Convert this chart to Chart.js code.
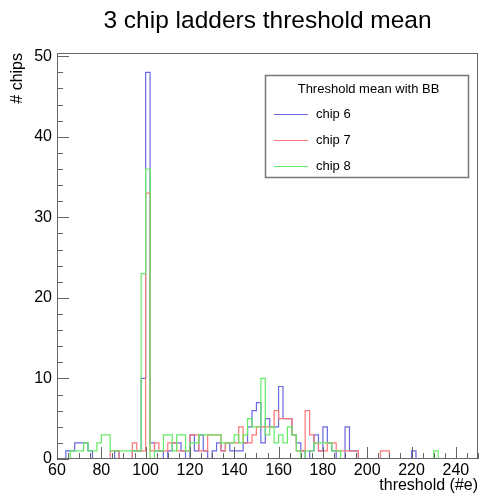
<!DOCTYPE html>
<html>
<head>
<meta charset="utf-8">
<title>3 chip ladders threshold mean</title>
<script src="https://cdn.jsdelivr.net/npm/chart.js@4.4.1/dist/chart.umd.min.js"></script>
<style>
  html, body { margin: 0; padding: 0; background: #fff; }
  #wrap { width: 479px; height: 494px; }
</style>
</head>
<body>
<div id="wrap"><canvas id="myChart"></canvas></div>
<script>
// histogram: 2 e- wide bins starting at 60
const binStart = 60;
const binWidth = 2;
const xTicks = [60, 80, 100, 120, 140, 160, 180, 200, 220, 240];
const yTicks = [0, 10, 20, 30, 40, 50];
const yMax = 50.4;

const chartTitle = '3 chip ladders threshold mean';
const legendHeader = 'Threshold mean with BB';
const seriesNames = ['chip 6', 'chip 7', 'chip 8'];
const seriesColors = ['rgb(105,105,225)', 'rgb(250,120,120)', 'rgb(100,235,100)'];

// counts per bin, one row = 10 bins = 20 e-
const chip6 = [
  0,0,1,1,2,2,2,1,0,0,      // 60-78
  0,0,0,1,0,0,0,1,1,10,     // 80-98
  48,2,1,1,0,1,2,2,1,0,     // 100-118
  3,1,3,1,0,1,2,1,2,1,      // 120-138
  1,1,2,4,6,7,2,5,4,4,      // 140-158
  9,5,5,3,2,1,0,1,3,1,      // 160-178
  4,2,1,0,0,4,1,1,0,0,      // 180-198
  0,0,0,0,0,0,0,0,0,0,      // 200-218
  1,0,0,0,0,0,0,0,0,0,      // 220-238
  0,0,0,0,0                 // 240-248
];
const chip7 = [
  0,0,0,0,0,0,0,0,0,0,
  0,0,1,1,0,0,0,2,1,1,
  33,1,2,1,1,2,2,1,1,1,
  3,3,1,1,3,3,3,1,2,2,
  2,4,2,2,3,4,4,4,4,6,
  5,5,5,3,1,1,6,3,2,1,
  1,2,2,1,1,1,1,1,0,0,
  0,0,0,1,1,0,0,0,0,0,
  0,0,0,0,0,0,0,0,0,0,
  0,0,0,0,0
];
const chip8 = [
  0,0,0,1,1,1,2,1,1,2,
  3,3,1,1,1,1,1,1,1,23,
  36,0,1,1,3,3,1,3,3,1,
  2,2,3,3,3,3,3,2,2,2,
  3,2,3,5,4,4,10,3,4,2,
  3,2,4,3,1,0,1,1,2,2,
  2,2,1,1,0,0,0,0,0,0,
  0,0,0,0,0,0,0,0,0,0,
  0,0,0,0,0,1,0,0,0,0,
  0,0,0,0,0
];

// bin low edges + closing edge, so stepped lines look like ROOT histos
const toSteps = counts => {
  const pts = counts.map((c, i) => ({x: binStart + i * binWidth, y: c}));
  pts.push({x: binStart + counts.length * binWidth, y: counts[counts.length - 1]});
  return pts;
};

const fontFamily = '"Liberation Sans", Arial, Helvetica, sans-serif';
Chart.defaults.font.family = fontFamily;
Chart.defaults.color = '#000';

// frame, inward ticks, title and legend box like a ROOT canvas
const rootStyle = {
  id: 'rootStyle',
  afterDatasetsDraw(chart) {
    const {ctx, chartArea: a, scales: {x, y}} = chart;
    ctx.save();
    ctx.strokeStyle = '#666';
    ctx.lineWidth = 1;
    ctx.strokeRect(a.left + 0.5, a.top + 0.5, a.right - a.left - 1, a.bottom - a.top - 1);
    ctx.beginPath();
    for (let v = xTicks[0]; v <= x.max; v += 5) {
      const px = Math.round(x.getPixelForValue(v)) + 0.5;
      const len = xTicks.includes(v) ? 12 : 6;
      ctx.moveTo(px, a.bottom);
      ctx.lineTo(px, a.bottom - len);
    }
    for (let v = 0; v <= yTicks[yTicks.length - 1]; v += 2) {
      const py = Math.round(y.getPixelForValue(v)) + 0.5;
      const len = yTicks.includes(v) ? 12 : 6;
      ctx.moveTo(a.left, py);
      ctx.lineTo(a.left + len, py);
    }
    ctx.stroke();
    ctx.restore();
  },
  afterDraw(chart) {
    const {ctx, chartArea: a} = chart;
    ctx.save();
    ctx.fillStyle = '#000';
    ctx.font = '24.5px ' + fontFamily;
    ctx.textAlign = 'center';
    ctx.textBaseline = 'alphabetic';
    ctx.fillText(chartTitle, (a.left + a.right) / 2, 28);

    // legend
    const lx = a.right - 213, ly = a.top + 22, lw = 203, lh = 102;
    ctx.fillStyle = '#fff';
    ctx.fillRect(lx, ly, lw, lh);
    ctx.strokeStyle = '#777';
    ctx.lineWidth = 1.5;
    ctx.strokeRect(lx + 0.5, ly + 0.5, lw, lh);
    ctx.fillStyle = '#000';
    ctx.font = '13px ' + fontFamily;
    ctx.textBaseline = 'middle';
    ctx.fillText(legendHeader, lx + lw / 2 + 2, ly + 14);
    ctx.textAlign = 'left';
    chart.data.datasets.forEach((ds, i) => {
      const ey = ly + 39 + i * 26;
      ctx.strokeStyle = ds.borderColor;
      ctx.lineWidth = 1.2;
      ctx.beginPath();
      ctx.moveTo(lx + 9, ey + 0.5);
      ctx.lineTo(lx + 43, ey + 0.5);
      ctx.stroke();
      ctx.fillText(ds.label, lx + 51, ey);
    });
    ctx.restore();
  }
};

const ctx = document.getElementById('myChart').getContext('2d');
const chart = new Chart(ctx, {
  type: 'line',
  data: {
    datasets: [chip6, chip7, chip8].map((counts, i) => ({
      label: seriesNames[i],
      data: toSteps(counts),
      borderColor: seriesColors[i],
      borderWidth: 1.2,
      stepped: 'before',
      pointRadius: 0,
      fill: false,
      order: 3 - i
    }))
  },
  options: {
    responsive: true,
    maintainAspectRatio: false,
    animation: false,
    layout: { padding: { top: 53, right: 1, left: 0, bottom: 0 } },
    plugins: {
      legend: { display: false },
      tooltip: { enabled: false },
      title: { display: false }
    },
    scales: {
      x: {
        type: 'linear',
        min: binStart,
        max: 250,
        afterBuildTicks: s => { s.ticks = xTicks.map(v => ({value: v})); },
        afterFit: s => { s.height = 35; },
        grid: { display: false, drawTicks: false },
        border: { display: false },
        ticks: { font: { size: 16 }, padding: 2, maxRotation: 0 },
        title: {
          display: true,
          text: 'threshold (#e)',
          align: 'end',
          font: { size: 16, lineHeight: 1 },
          padding: 0
        }
      },
      y: {
        min: 0,
        max: yMax,
        afterBuildTicks: s => { s.ticks = yTicks.map(v => ({value: v})); },
        afterFit: s => { s.width = 57; },
        grid: { display: false, drawTicks: false },
        border: { display: false },
        ticks: { font: { size: 16 }, padding: 5 },
        title: {
          display: true,
          text: '# chips',
          align: 'end',
          font: { size: 16, lineHeight: 1 },
          padding: { top: 10, bottom: 0 }
        }
      }
    }
  },
  plugins: [rootStyle]
});
</script>
</body>
</html>
